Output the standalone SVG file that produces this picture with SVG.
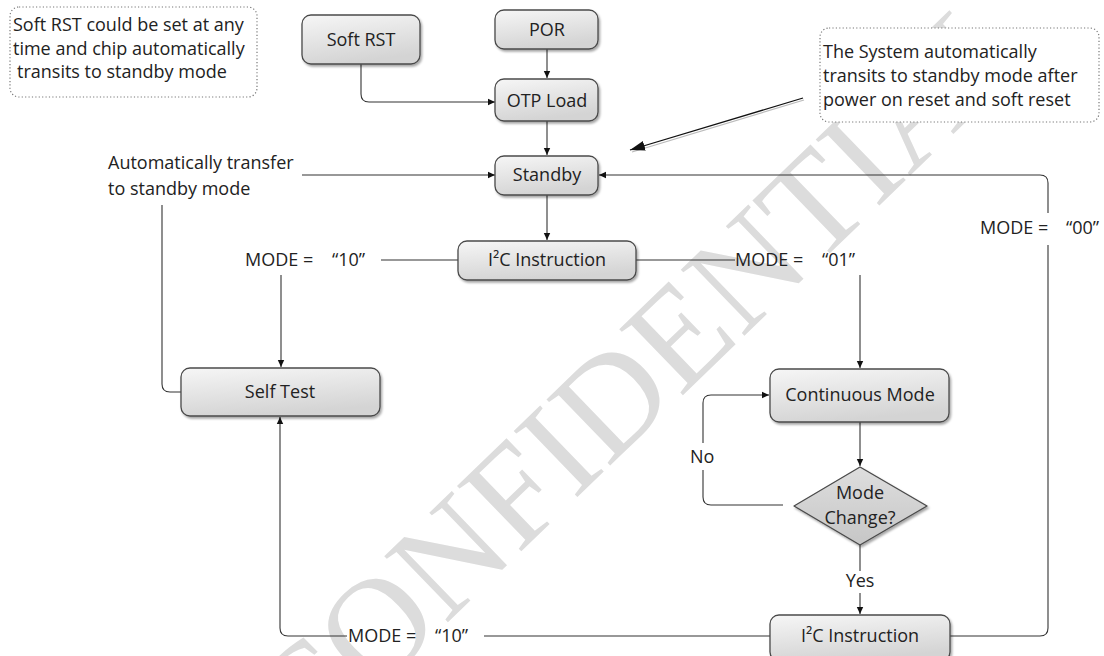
<svg xmlns="http://www.w3.org/2000/svg" width="1104" height="656" viewBox="0 0 1104 656">
<defs>
<linearGradient id="gb" x1="0" y1="0" x2="0.3" y2="1">
<stop offset="0" stop-color="#f6f6f6"/>
<stop offset="1" stop-color="#d4d4d4"/>
</linearGradient>
<linearGradient id="gd" x1="0" y1="0" x2="0" y2="1">
<stop offset="0" stop-color="#dedede"/>
<stop offset="1" stop-color="#c6c6c6"/>
</linearGradient>
<filter id="sh" x="-10%" y="-10%" width="130%" height="140%">
<feDropShadow dx="1.5" dy="2" stdDeviation="1.2" flood-color="#000" flood-opacity="0.35"/>
</filter>
<marker id="ar" markerWidth="8" markerHeight="8" refX="7" refY="4" orient="auto" markerUnits="userSpaceOnUse">
<path d="M0,0.8 L7,4 L0,7.2 Z" fill="#111"/>
</marker>
<marker id="ar2" markerWidth="16" markerHeight="12" refX="15" refY="6" orient="auto" markerUnits="userSpaceOnUse">
<path d="M0,1 L15,6 L0,11 Z" fill="#111"/>
</marker>
<style>
.t{font-family:"Open Sans","Liberation Sans",sans-serif;font-size:18px;fill:#222}
.m{text-anchor:middle}
.box{fill:url(#gb);stroke:#4a4a4a;stroke-width:1.3;filter:url(#sh)}
.dia{fill:url(#gd);stroke:#4a4a4a;stroke-width:1.3;stroke-linejoin:round;filter:url(#sh)}
.note{fill:#fff;stroke:#777;stroke-width:1.2;stroke-dasharray:1.2 2.2}
.c{fill:none;stroke:#333;stroke-width:1.1}
.wm{font-family:"Liberation Serif",serif;font-size:140px;fill:#dcdcdc}
</style>
</defs>
<rect width="1104" height="656" fill="#fff"/>
<text class="wm" transform="translate(305,760) rotate(-44)">CONFIDENTIAL</text>

<g id="note1">
<rect class="note" x="10" y="7" width="247" height="90" rx="9"/>
<text class="t"><tspan x="13" y="31">Soft RST could be set at any</tspan><tspan x="13" y="55">time and chip automatically</tspan><tspan x="17" y="78">transits to standby mode</tspan></text>
</g>
<g id="note2">
<rect class="note" x="820" y="28" width="279" height="94" rx="9"/>
<text class="t"><tspan x="823" y="58">The System automatically</tspan><tspan x="823" y="82">transits to standby mode after</tspan><tspan x="823" y="106">power on  reset and soft reset</tspan></text>
</g>
<g id="autolabel">
<text class="t"><tspan x="108" y="169">Automatically transfer</tspan><tspan x="108" y="195">to standby mode</tspan></text>
</g>

<g id="connectors">
<path class="c" d="M361,64 V94 Q361,102 369,102 H495" marker-end="url(#ar)"/>
<path class="c" d="M547,49 V78" marker-end="url(#ar)"/>
<path class="c" d="M547,121 V155" marker-end="url(#ar)"/>
<path class="c" d="M302,175 H495" marker-end="url(#ar)"/>
<path class="c" d="M950,636 H1040 Q1048,636 1048,628 V245"/>
<path class="c" d="M1048,213 V183 Q1048,175 1040,175 H599" marker-end="url(#ar)"/>
<path class="c" d="M547,195 V240" marker-end="url(#ar)"/>
<path class="c" d="M458,260 H381"/>
<path class="c" d="M281,275 V367" marker-end="url(#ar)"/>
<path class="c" d="M636,260 H735"/>
<path class="c" d="M860,275 V368" marker-end="url(#ar)"/>
<path class="c" d="M860,422 V466" marker-end="url(#ar)"/>
<path class="c" d="M783,505 H711 Q703,505 703,497 V470"/>
<path class="c" d="M703,443 V403 Q703,395 711,395 H769" marker-end="url(#ar)"/>
<path class="c" d="M860,545 V571"/>
<path class="c" d="M860,593 V614" marker-end="url(#ar)"/>
<path class="c" d="M770,636 H484"/>
<path class="c" d="M347,636 H288 Q280,636 280,628 V417" marker-end="url(#ar)"/>
<path class="c" d="M162,205 V384 Q162,392 170,392 H181"/>
<path d="M804,100 L632,152" fill="none" stroke="#bbb" stroke-width="1.2"/>
<path d="M803,98 L630,150" fill="none" stroke="#111" stroke-width="1.3" marker-end="url(#ar2)"/>
<text class="t"><tspan x="245" y="266">MODE =</tspan><tspan x="332" y="266">“10”</tspan></text>
<text class="t"><tspan x="735" y="266">MODE =</tspan><tspan x="822" y="266">“01”</tspan></text>
<text class="t"><tspan x="980" y="234">MODE =</tspan><tspan x="1066" y="234">“00”</tspan></text>
<text class="t"><tspan x="348" y="642">MODE =</tspan><tspan x="435" y="642">“10”</tspan></text>
<text class="t" x="690" y="463">No</text>
<text class="t m" x="860" y="587">Yes</text>
</g>

<g id="softrst"><rect class="box" x="302" y="15" width="118" height="49" rx="9"/><text class="t m" x="361" y="46">Soft RST</text></g>
<g id="por"><rect class="box" x="495" y="10" width="103" height="39" rx="9"/><text class="t m" x="547" y="36">POR</text></g>
<g id="otp"><rect class="box" x="495" y="79" width="103" height="42" rx="9"/><text class="t m" x="547" y="107">OTP Load</text></g>
<g id="standby"><rect class="box" x="495" y="156" width="103" height="39" rx="9"/><text class="t m" x="547" y="181">Standby</text></g>
<g id="i2c1"><rect class="box" x="458" y="241" width="178" height="39" rx="9"/><text class="t m" x="547" y="266">I²C Instruction</text></g>
<g id="selftest"><rect class="box" x="181" y="368" width="199" height="48" rx="9"/><text class="t m" x="280" y="398">Self Test</text></g>
<g id="continuous"><rect class="box" x="770" y="369" width="179" height="53" rx="9"/><text class="t m" x="860" y="401">Continuous Mode</text></g>
<g id="modechange"><path class="dia" d="M860,467 L927,506 L860,545 L794,506 Z"/><text class="t m"><tspan x="860" y="499">Mode</tspan><tspan x="860" y="524">Change?</tspan></text></g>
<g id="i2c2"><rect class="box" x="770" y="615" width="180" height="46" rx="9"/><text class="t m" x="860" y="642">I²C Instruction</text></g>
</svg>
